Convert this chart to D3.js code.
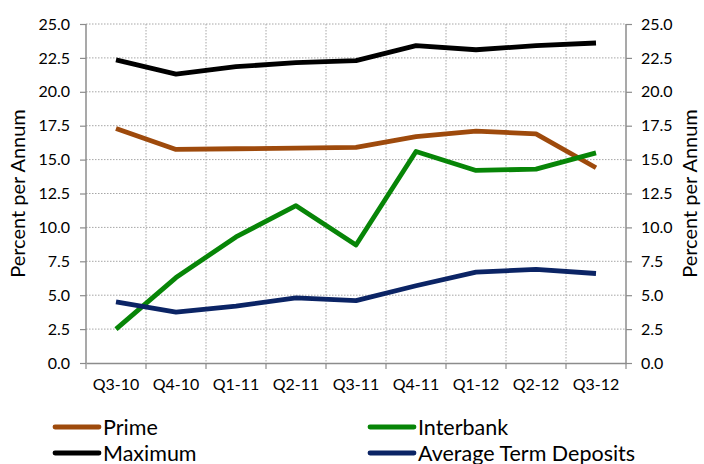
<!DOCTYPE html>
<html>
<head>
<meta charset="utf-8">
<script src="https://cdn.jsdelivr.net/npm/d3@7"></script>
<style>
  html, body { margin: 0; padding: 0; background: #fff; }
  svg { display: block; }
  text { font-family: Lato, "Liberation Sans", sans-serif; fill: #000; }
</style>
</head>
<body>
<svg id="chart" width="704" height="464"></svg>
<script>
// Quarterly rates, percent per annum
const quarters = ["Q3-10", "Q4-10", "Q1-11", "Q2-11", "Q3-11", "Q4-11", "Q1-12", "Q2-12", "Q3-12"];
const prime     = [17.3, 15.75, 15.8, 15.85, 15.9, 16.7, 17.1, 16.9, 14.4];
const interbank = [2.5, 6.3, 9.3, 11.6, 8.7, 15.6, 14.2, 14.3, 15.5];
const maximum   = [22.35, 21.3, 21.85, 22.15, 22.3, 23.4, 23.1, 23.4, 23.6];
const termDeposits = [4.5, 3.75, 4.2, 4.8, 4.6, 5.7, 6.7, 6.9, 6.6];
const yTicks = [0, 2.5, 5, 7.5, 10, 12.5, 15, 17.5, 20, 22.5, 25];

const seriesList = [
  { name: "Prime", values: prime, color: "#9E4A0C" },
  { name: "Interbank", values: interbank, color: "#078507" },
  { name: "Maximum", values: maximum, color: "#000000" },
  { name: "Average Term Deposits", values: termDeposits, color: "#0B2465" }
];

const svg = d3.select("#chart");
const plotLeft = 86, plotRight = 626, plotTop = 24, plotBottom = 363;

const x = d3.scaleBand().domain(quarters).range([plotLeft, plotRight]).padding(0);
const y = d3.scaleLinear().domain([0, 25]).range([plotBottom, plotTop]);

const axisColor = "#8c8c8c";
const gridColor = "#a6a6a6";
const tickFont = "16px";

// Horizontal dotted gridlines
svg.append("g")
  .selectAll("line")
  .data(yTicks.filter(d => d > 0))
  .join("line")
  .attr("x1", plotLeft).attr("x2", plotRight)
  .attr("y1", d => y(d)).attr("y2", d => y(d))
  .attr("stroke", gridColor).attr("stroke-width", 1)
  .attr("stroke-dasharray", "1.5,1.5");

// Vertical dotted gridlines on category boundaries
const boundaries = quarters.slice(1).map(q => x(q));
svg.append("g")
  .selectAll("line")
  .data(boundaries)
  .join("line")
  .attr("x1", d => d).attr("x2", d => d)
  .attr("y1", plotTop).attr("y2", plotBottom)
  .attr("stroke", gridColor).attr("stroke-width", 1)
  .attr("stroke-dasharray", "1.5,1.5");

const fmt = d3.format(".1f");

// Left and right value axes
const leftAxis = svg.append("g")
  .attr("transform", `translate(${plotLeft},0)`)
  .call(d3.axisLeft(y).tickValues(yTicks).tickFormat(fmt).tickSize(6).tickPadding(10));
const rightAxis = svg.append("g")
  .attr("transform", `translate(${plotRight},0)`)
  .call(d3.axisRight(y).tickValues(yTicks).tickFormat(fmt).tickSize(6).tickPadding(9));

[leftAxis, rightAxis].forEach(g => {
  g.select(".domain").remove();
  g.selectAll(".tick line").attr("stroke", axisColor).attr("stroke-width", 1.2);
  g.selectAll(".tick text").style("font-size", tickFont).attr("fill", "#000");
});
[plotLeft, plotRight].forEach(px => {
  svg.append("line").attr("x1", px).attr("x2", px).attr("y1", plotTop).attr("y2", plotBottom)
    .attr("stroke", axisColor).attr("stroke-width", 1.5);
});

// Category axis with ticks at band boundaries
const bottomAxis = svg.append("g")
  .attr("transform", `translate(0,${plotBottom})`)
  .call(d3.axisBottom(x).tickSize(0).tickPadding(16));
bottomAxis.select(".domain").attr("stroke", axisColor).attr("stroke-width", 1.5);
bottomAxis.selectAll(".tick text").style("font-size", tickFont).attr("fill", "#000");
svg.append("g")
  .selectAll("line")
  .data(quarters.map(q => x(q)).concat([plotRight]))
  .join("line")
  .attr("x1", d => d).attr("x2", d => d)
  .attr("y1", plotBottom).attr("y2", plotBottom + 6)
  .attr("stroke", axisColor).attr("stroke-width", 1.2);

// Axis titles
[25, 697].forEach(tx => {
  svg.append("text")
    .attr("transform", `translate(${tx},${(plotTop + plotBottom) / 2}) rotate(-90)`)
    .attr("text-anchor", "middle")
    .style("font-size", "20px")
    .text("Percent per Annum");
});

// Series lines
const line = d3.line()
  .x((d, i) => x(quarters[i]) + x.bandwidth() / 2)
  .y(d => y(d));

svg.append("g")
  .selectAll("path")
  .data(seriesList)
  .join("path")
  .attr("d", s => line(s.values))
  .attr("fill", "none")
  .attr("stroke", s => s.color)
  .attr("stroke-width", 4.8)
  .attr("stroke-linejoin", "round");

// Legend: two columns, two rows
const legendPos = [
  { x: 55, y: 427 }, { x: 370, y: 427 },
  { x: 55, y: 453 }, { x: 370, y: 453 }
];
const legend = svg.append("g")
  .selectAll("g")
  .data(seriesList)
  .join("g")
  .attr("transform", (s, i) => `translate(${legendPos[i].x},${legendPos[i].y})`);
legend.append("line")
  .attr("x1", 0).attr("x2", 44).attr("y1", 0).attr("y2", 0)
  .attr("stroke", s => s.color).attr("stroke-width", 4.8)
  .attr("stroke-linecap", "round");
legend.append("text")
  .attr("x", 48).attr("y", 7.5)
  .style("font-size", "21.5px")
  .text(s => s.name);
</script>
</body>
</html>
